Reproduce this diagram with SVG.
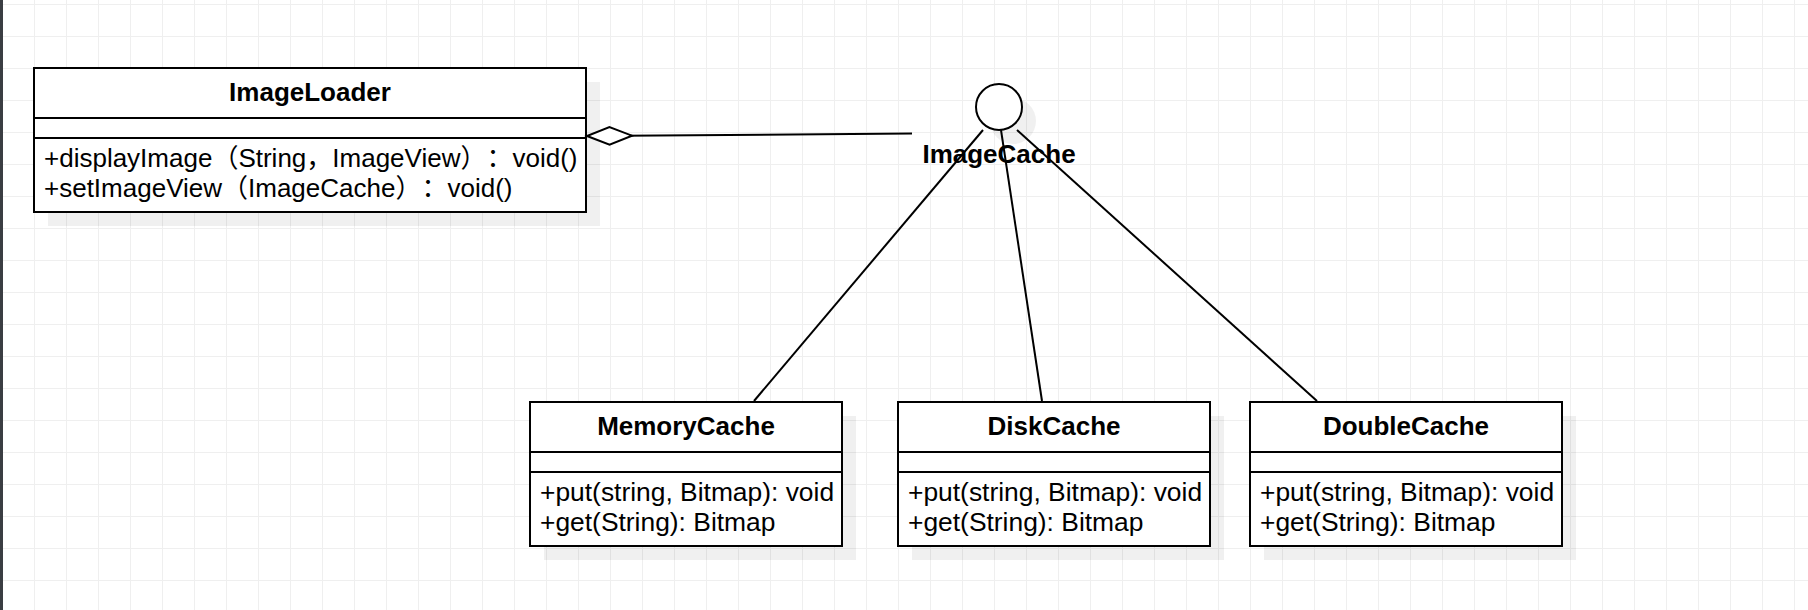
<svg xmlns="http://www.w3.org/2000/svg" width="1808" height="610" viewBox="0 0 1808 610">
  <defs>
    <pattern id="grid" patternUnits="userSpaceOnUse" x="2" y="4" width="32" height="32">
      <path d="M0 0.5 H32 M0.5 0 V32" fill="none" stroke="#efefef" stroke-width="1"/>
    </pattern>
    <marker id="diamond" markerUnits="userSpaceOnUse" viewBox="-48 -12 52 24" markerWidth="52" markerHeight="24" refX="0" refY="0" orient="auto" overflow="visible">
      <path d="M0,0 L-22.5,-8.8 L-45,0 L-22.5,8.8 Z" fill="#ffffff" stroke="#000000" stroke-width="2" stroke-linejoin="miter"/>
    </marker>
    <style>
      .box { fill: #ffffff; stroke: #000000; stroke-width: 2; }
      .sep { stroke: #000000; stroke-width: 2; }
      .shadow { fill: #000000; fill-opacity: 0.06; }
      .title { font-family: "Liberation Sans", Arial, "Noto Sans CJK SC", sans-serif; font-size: 26px; font-weight: bold; fill: #000000; text-anchor: middle; }
      .member { font-family: "Liberation Sans", Arial, "Noto Sans CJK SC", sans-serif; font-size: 26px; fill: #000000; text-spacing-trim: space-all; }
      .cm { font-size: 26.4px; }
      .conn { fill: none; stroke: #000000; stroke-width: 2; }
    </style>
  </defs>

  <rect x="0" y="0" width="1808" height="610" fill="#ffffff"/>
  <rect x="0" y="0" width="1808" height="610" fill="url(#grid)"/>
  <rect x="0" y="0" width="3" height="610" fill="#3a3d42"/>

  <g id="ImageLoader">
    <rect class="shadow" x="48" y="82" width="552" height="144"/>
    <rect class="box" x="34" y="68" width="552" height="144"/>
    <line class="sep" x1="34" y1="118" x2="586" y2="118"/>
    <line class="sep" x1="34" y1="138" x2="586" y2="138"/>
    <text class="title" x="310" y="101">ImageLoader</text>
    <text class="member" x="44" y="167">+displayImage（String，ImageView）：void()</text>
    <text class="member" x="44" y="197">+setImageView（ImageCache）：void()</text>
  </g>

  <g id="ImageCache">
    <circle class="shadow" cx="1013" cy="121" r="23"/>
    <circle class="box" cx="999" cy="107" r="23"/>
    <text class="title" x="999" y="163">ImageCache</text>
  </g>

  <g id="MemoryCache">
    <rect class="shadow" x="544" y="416" width="312" height="144"/>
    <rect class="box" x="530" y="402" width="312" height="144"/>
    <line class="sep" x1="530" y1="452" x2="842" y2="452"/>
    <line class="sep" x1="530" y1="472" x2="842" y2="472"/>
    <text class="title" x="686" y="435">MemoryCache</text>
    <text class="member cm" x="540" y="501">+put(string, Bitmap): void</text>
    <text class="member cm" x="540" y="531">+get(String): Bitmap</text>
  </g>

  <g id="DiskCache">
    <rect class="shadow" x="912" y="416" width="312" height="144"/>
    <rect class="box" x="898" y="402" width="312" height="144"/>
    <line class="sep" x1="898" y1="452" x2="1210" y2="452"/>
    <line class="sep" x1="898" y1="472" x2="1210" y2="472"/>
    <text class="title" x="1054" y="435">DiskCache</text>
    <text class="member cm" x="908" y="501">+put(string, Bitmap): void</text>
    <text class="member cm" x="908" y="531">+get(String): Bitmap</text>
  </g>

  <g id="DoubleCache">
    <rect class="shadow" x="1264" y="416" width="312" height="144"/>
    <rect class="box" x="1250" y="402" width="312" height="144"/>
    <line class="sep" x1="1250" y1="452" x2="1562" y2="452"/>
    <line class="sep" x1="1250" y1="472" x2="1562" y2="472"/>
    <text class="title" x="1406" y="435">DoubleCache</text>
    <text class="member cm" x="1260" y="501">+put(string, Bitmap): void</text>
    <text class="member cm" x="1260" y="531">+get(String): Bitmap</text>
  </g>

  <g id="connectors">
    <path class="conn" d="M912,133.5 L587,136" marker-end="url(#diamond)"/>
    <path class="conn" d="M983,130 L754,401"/>
    <path class="conn" d="M1001,130 L1042,401"/>
    <path class="conn" d="M1017,130 L1317,401"/>
  </g>
</svg>
